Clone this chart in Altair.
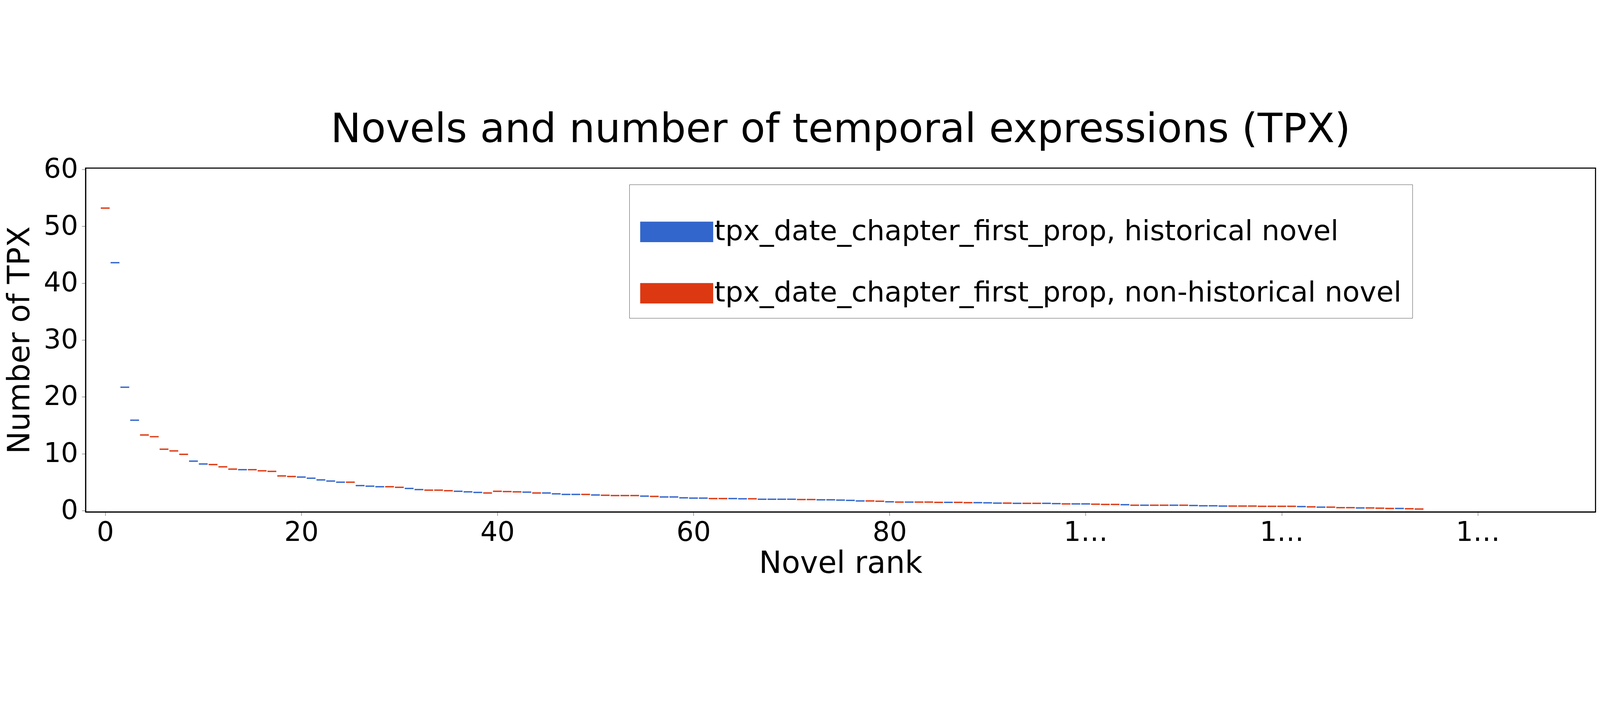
import altair as alt
import pandas as pd

# bar values, rank 0..134
values = [
    53.2, 43.6, 21.7, 15.9, 13.3, 13.0, 10.8, 10.5, 9.9, 8.7,
    8.2, 8.1, 7.7, 7.3, 7.2, 7.2, 7.0, 6.9, 6.1, 6.0,
    5.9, 5.7, 5.4, 5.2, 5.0, 5.0, 4.4, 4.3, 4.2, 4.2,
    4.1, 3.9, 3.7, 3.6, 3.6, 3.5, 3.4, 3.3, 3.2, 3.1,
    3.4, 3.35, 3.3, 3.25, 3.1, 3.1, 2.95, 2.85, 2.85, 2.85,
    2.75, 2.7, 2.65, 2.65, 2.65, 2.55, 2.5, 2.4, 2.4, 2.25,
    2.2, 2.2, 2.12, 2.12, 2.12, 2.08, 2.08, 2.0, 2.0, 2.0,
    2.0, 1.95, 1.95, 1.9, 1.9, 1.85, 1.8, 1.7, 1.7, 1.65,
    1.55, 1.5, 1.5, 1.5, 1.5, 1.45, 1.45, 1.45, 1.4, 1.4,
    1.37, 1.32, 1.32, 1.28, 1.28, 1.28, 1.28, 1.23, 1.18, 1.18,
    1.18, 1.13, 1.09, 1.09, 1.04, 0.95, 0.95, 0.95, 0.95, 0.95,
    0.95, 0.9, 0.85, 0.85, 0.8, 0.8, 0.8, 0.8, 0.76, 0.76,
    0.76, 0.76, 0.71, 0.66, 0.61, 0.61, 0.52, 0.52, 0.47, 0.47,
    0.43, 0.38, 0.38, 0.33, 0.28,
]
# B = historical, R = non-historical, ten per group
kinds = "".join([
    "RBBBRRRRRB", "BRRRBRRRRR", "BBBBBRBBBR", "RBBRRRBBBR",
    "RRRBRBBBBR", "BRRRRBRBBB", "BBRRBBRBBB", "BRRBBBBBRR",
    "BRBRRRBRRB", "BBRBRRBBRB", "BRRRBRBRRB", "RBBBBRRRRR",
    "RRBRBRRRBR", "RRBRR",
])
hist = "tpx_date_chapter_first_prop, historical novel"
nonhist = "tpx_date_chapter_first_prop, non-historical novel"

df = pd.DataFrame({"rank": list(range(len(values))), "tpx": values})
df["kind"] = [hist if k == "B" else nonhist for k in kinds]
df["x0"] = df["rank"] - 0.45
df["x1"] = df["rank"] + 0.45

font = "DejaVu Sans"

bars = alt.Chart(df).mark_bar().encode(
    x=alt.X("x0:Q", scale=alt.Scale(domain=[-2, 152], nice=False),
            axis=alt.Axis(values=list(range(0, 141, 20)), title="Novel rank",
                          grid=False, tickSize=14, tickColor="black",
                          labelPadding=14, titlePadding=10)),
    x2="x1:Q",
    y=alt.Y("tpx:Q", scale=alt.Scale(domain=[0, 60], nice=False),
            axis=alt.Axis(values=list(range(0, 61, 10)), title="Number of TPX",
                          grid=False, tickSize=14, tickColor="black",
                          labelPadding=14, titlePadding=30)),
    color=alt.Color("kind:N", sort=[hist, nonhist],
                    scale=alt.Scale(domain=[hist, nonhist], range=["#3366cc", "#dc3912"]),
                    legend=alt.Legend(title=None, orient="none", legendX=2011, legendY=61,
                                      symbolType="M-1,-0.28H1V0.28H-1Z", symbolSize=72900,
                                      symbolStrokeWidth=0, symbolOpacity=1,
                                      labelFontSize=104, labelFont=font, labelLimit=4000,
                                      rowPadding=40, padding=40, offset=0,
                                      strokeColor="black", fillColor="white")),
)

chart = bars.properties(
    width=5584, height=1272,
    title=alt.TitleParams("Novels and number of temporal expressions (TPX)",
                          fontSize=150, font=font, fontWeight="normal", offset=20),
).configure_axis(
    labelFontSize=100, titleFontSize=112, labelFont=font, titleFont=font,
    titleFontWeight="normal", domainColor="black", domainWidth=4,
    labelColor="black", titleColor="black",
).configure_view(stroke="black", strokeWidth=4)

chart.save("out.html", embed_options={"renderer": "svg", "actions": False})
